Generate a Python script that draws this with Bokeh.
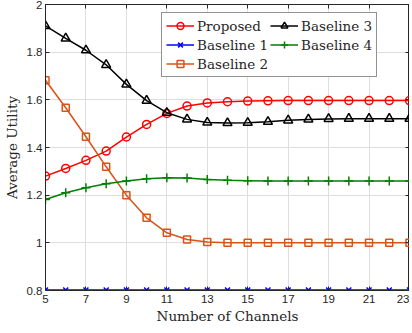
from bokeh.plotting import figure
from bokeh.models import (Range1d, FixedTicker, LinearAxis, Legend, LegendItem)
from bokeh.embed import file_html
from bokeh.resources import INLINE

channels = list(range(5, 24))
proposed = [1.280, 1.312, 1.346, 1.385, 1.444, 1.497, 1.543, 1.574, 1.587, 1.592,
            1.595, 1.596, 1.597, 1.597, 1.597, 1.597, 1.597, 1.597, 1.597]
baseline1 = [0.802] * 19
baseline2 = [1.682, 1.567, 1.445, 1.319, 1.200, 1.105, 1.042, 1.014, 1.003, 1.000,
             1.000, 1.000, 1.000, 1.000, 1.000, 1.000, 1.000, 1.000, 1.000]
baseline3 = [1.910, 1.858, 1.808, 1.747, 1.665, 1.597, 1.546, 1.518, 1.505, 1.503,
             1.504, 1.508, 1.514, 1.518, 1.520, 1.521, 1.521, 1.521, 1.521]
baseline4 = [1.182, 1.210, 1.231, 1.248, 1.259, 1.269, 1.273, 1.272, 1.266, 1.263,
             1.261, 1.259, 1.259, 1.259, 1.259, 1.259, 1.259, 1.259, 1.259]
x_ticks = [5, 7, 9, 11, 13, 15, 17, 19, 21, 23]
y_ticks = [0.8, 1.0, 1.2, 1.4, 1.6, 1.8, 2.0]

serif = "DejaVu Serif"
sans = "Liberation Sans"
axc = "#262626"

p = figure(frame_width=364, frame_height=286, output_backend="svg", toolbar_location=None,
           x_range=Range1d(5, 23), y_range=Range1d(0.8, 2.0),
           min_border_left=38, min_border_right=0, min_border_top=4, min_border_bottom=0)
p.outline_line_color = axc
p.outline_line_width = 1
p.background_fill_color = "white"

for ax in (p.xaxis[0], p.yaxis[0]):
    ax.major_tick_in = 4
    ax.major_tick_out = 0
    ax.minor_tick_line_color = None
    ax.axis_line_color = axc
    ax.major_tick_line_color = axc
    ax.major_label_text_font = sans
    ax.major_label_text_font_size = "11.5px"
    ax.major_label_text_color = axc
    ax.axis_label_text_font = serif
    ax.axis_label_text_font_style = "normal"
    ax.axis_label_text_font_size = "13.5px"
    ax.axis_label_text_color = axc

p.xaxis.ticker = FixedTicker(ticks=x_ticks)
p.yaxis.ticker = FixedTicker(ticks=y_ticks)
p.yaxis.major_label_overrides = {0.8: "0.8", 1.0: "1", 1.2: "1.2", 1.4: "1.4",
                                 1.6: "1.6", 1.8: "1.8", 2.0: "2"}
p.xaxis.axis_label = "Number of Channels"
p.yaxis.axis_label = "Average Utility"
p.xaxis.major_label_standoff = 4
p.xaxis.axis_label_standoff = 2
p.yaxis.major_label_standoff = 3
p.yaxis.axis_label_standoff = 4

for loc, tk in (("right", y_ticks), ("above", x_ticks)):
    a = LinearAxis(ticker=FixedTicker(ticks=tk))
    a.major_tick_in = 4
    a.major_tick_out = 0
    a.minor_tick_line_color = None
    a.axis_line_color = axc
    a.major_tick_line_color = axc
    a.major_label_text_color = None
    a.major_label_text_font_size = "1px"
    a.major_label_standoff = 0
    p.add_layout(a, loc)

p.xgrid.ticker = FixedTicker(ticks=x_ticks)
p.ygrid.ticker = FixedTicker(ticks=y_ticks)
p.grid.grid_line_color = "#dedede"
p.grid.grid_line_width = 1

series = [
    ("Proposed", proposed, "#ff0000", "circle", 8),
    ("Baseline 1", baseline1, "#0000ff", "x", 7),
    ("Baseline 2", baseline2, "#d95319", "square", 7),
    ("Baseline 3", baseline3, "#000000", "triangle", 9),
    ("Baseline 4", baseline4, "#008000", "cross", 9),
]
items = []
for name, ys, col, mk, sz in series:
    l = p.line(channels, ys, line_color=col, line_width=1.5)
    s = p.scatter(channels, ys, marker=mk, size=sz, line_color=col, line_width=1.5,
                  fill_color=None)
    items.append(LegendItem(label=name, renderers=[l, s]))

leg = Legend(items=items, location=(116, 213), nrows=3, orientation="vertical")
leg.label_text_font = serif
leg.label_text_font_size = "13.5px"
leg.label_text_color = axc
leg.glyph_width = 28
leg.glyph_height = 17
leg.label_height = 17
leg.spacing = 2
leg.label_standoff = 3
leg.padding = 4
leg.margin = 0
leg.border_line_color = axc
leg.border_line_width = 1
leg.background_fill_alpha = 1
p.add_layout(leg, "center")

open("out.html", "w").write(file_html(p, INLINE))
